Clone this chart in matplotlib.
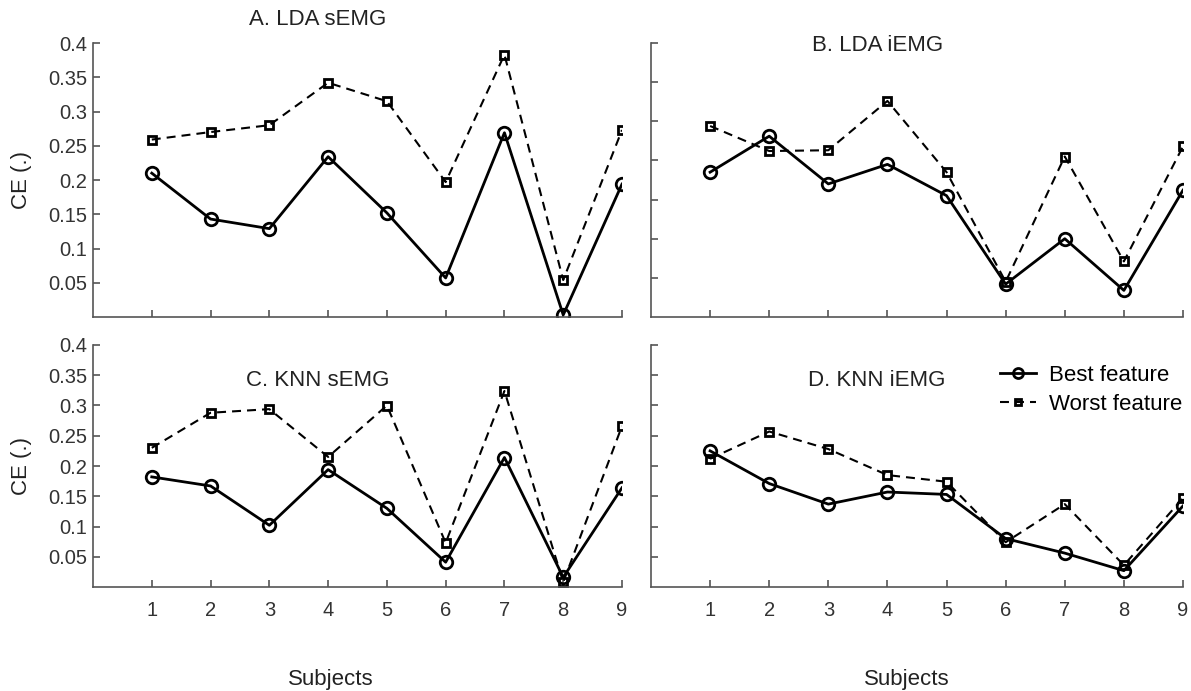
import matplotlib
matplotlib.use("Agg")
import matplotlib.pyplot as plt

plt.rcParams['font.family'] = ['Liberation Sans', 'DejaVu Sans']

subjects = [1, 2, 3, 4, 5, 6, 7, 8, 9]

# classification error per subject
lda_semg_best = [0.210, 0.143, 0.129, 0.234, 0.152, 0.057, 0.269, 0.003, 0.194]
lda_semg_worst = [0.259, 0.270, 0.280, 0.342, 0.315, 0.197, 0.383, 0.054, 0.273]
lda_iemg_best = [0.185, 0.231, 0.170, 0.195, 0.155, 0.042, 0.100, 0.034, 0.162]
lda_iemg_worst = [0.244, 0.212, 0.213, 0.276, 0.185, 0.045, 0.205, 0.071, 0.218]
knn_semg_best = [0.182, 0.167, 0.102, 0.194, 0.130, 0.041, 0.214, 0.016, 0.164]
knn_semg_worst = [0.230, 0.288, 0.294, 0.215, 0.300, 0.073, 0.324, 0.008, 0.266]
knn_iemg_best = [0.225, 0.171, 0.137, 0.157, 0.153, 0.080, 0.056, 0.027, 0.134]
knn_iemg_worst = [0.212, 0.257, 0.228, 0.185, 0.174, 0.074, 0.137, 0.036, 0.147]

titles = ["A. LDA sEMG", "B. LDA iEMG", "C. KNN sEMG", "D. KNN iEMG"]
best = [lda_semg_best, lda_iemg_best, knn_semg_best, knn_iemg_best]
worst = [lda_semg_worst, lda_iemg_worst, knn_semg_worst, knn_iemg_worst]
ytops = [0.4, 0.35, 0.4, 0.4]

W, H = 1191, 691
fig = plt.figure(figsize=(W / 100, H / 100), dpi=100)

# axes boxes in pixels: left, right, top, bottom
boxes = [(93, 622, 43, 317), (651, 1183, 43, 317),
         (93, 622, 345, 587), (651, 1183, 345, 587)]
title_y = [1.084, 0.99, 0.855, 0.855]
xlab_x = [0.45, 0.48]
grey = '#555555'

for i in range(4):
    l, r, t, b = boxes[i]
    ax = fig.add_axes([l / W, 1 - b / H, (r - l) / W, (b - t) / H])
    ax.plot(subjects, best[i], '-o', color='black', lw=2, ms=9,
            mfc='none', mew=2, label='Best feature')
    ax.plot(subjects, worst[i], '--s', color='black', lw=1.5, ms=6,
            mfc='none', mew=2, dashes=(4.3, 2.9), label='Worst feature')
    ax.set_xlim(0, 9)
    ax.set_ylim(0, ytops[i])
    ax.set_xticks(subjects)
    yt = [k * 0.05 for k in range(1, int(round(ytops[i] / 0.05)) + 1)]
    ax.set_yticks(yt)
    ax.set_yticklabels(['%g' % round(v, 2) for v in yt])
    for s in ['top', 'right']:
        ax.spines[s].set_visible(False)
    for s in ['left', 'bottom']:
        ax.spines[s].set_color(grey)
        ax.spines[s].set_linewidth(1.2)
    ax.tick_params(direction='in', length=5, width=1.2, color=grey,
                   labelsize=14.5, labelcolor='#333333', pad=4)
    ax.tick_params(axis='x', pad=10)
    if i < 2:
        ax.set_xticklabels([])
    else:
        ax.set_xlabel("Subjects", fontsize=16, color='#222222')
        ax.xaxis.set_label_coords(xlab_x[i - 2], -0.34)
    if i % 2 == 1:
        ax.set_yticklabels([])
    else:
        ax.set_ylabel("CE (.)", fontsize=16, color='#222222')
        ax.yaxis.set_label_coords(-0.115, 0.5)
    ax.text(0.425, title_y[i], titles[i], transform=ax.transAxes,
            ha='center', va='center', fontsize=16, color='#222222')
    if i == 3:
        ax.legend(loc='upper left', bbox_to_anchor=(0.64, 0.955), frameon=False,
                  borderaxespad=0, fontsize=16, handlelength=1.6,
                  handletextpad=0.6, labelspacing=0.38, markerscale=0.8)

fig.savefig("out.png", dpi=100)
